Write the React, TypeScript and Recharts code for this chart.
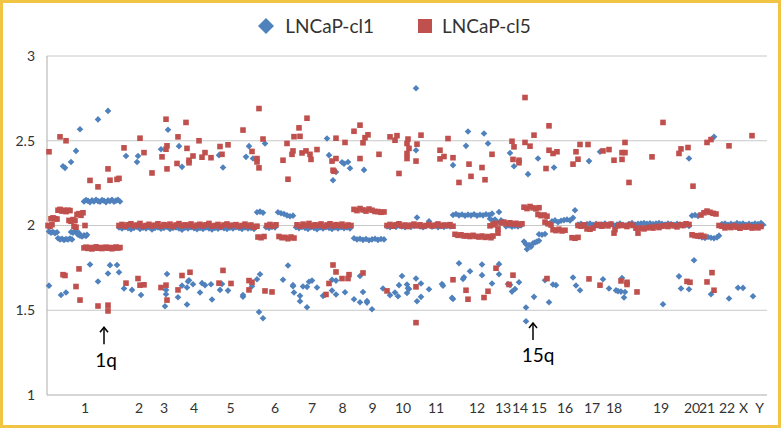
import React from 'react';
import { ScatterChart, Scatter, XAxis, YAxis, CartesianGrid, Legend, ReferenceLine, ReferenceDot } from 'recharts';

type Pt = [number, number];

// chromosome labels along the probe index axis
const chromPos = [38, 92, 117, 147, 183.5, 228, 265, 295.6, 325.5, 356, 389, 430, 456, 473, 492, 518, 545, 567, 614, 645, 660, 680, 696.5, 712.5];
const chromLabels = ['1', '2', '3', '4', '5', '6', '7', '8', '9', '10', '11', '12', '13', '14', '15', '16', '17', '18', '19', '20', '21', '22', 'X', 'Y'];
const yTicks = [1, 1.5, 2, 2.5, 3];

// LNCaP-cl1 copy number, main band
const cl1Band: Pt[] = [
  [2, 1.965], [4, 1.958], [6, 1.962], [8, 1.955], [10, 1.96],
  [11, 1.925], [13, 1.918], [15, 1.922], [17, 1.915], [19, 1.92], [21, 1.917], [23, 1.923], [25, 1.918],
  [24, 1.962], [26, 1.958], [28, 1.965], [30, 1.96], [32, 1.955],
  [31, 1.945], [33, 1.94], [35, 1.935], [37, 1.942], [39, 1.938], [40, 1.945],
  [37, 2.142], [39, 2.15], [41, 2.145], [43, 2.138], [45, 2.148], [47, 2.142], [49, 2.152], [51, 2.144], [53, 2.14], [55, 2.15],
  [57, 2.146], [59, 2.138], [61, 2.148], [63, 2.143], [65, 2.152], [67, 2.14], [69, 2.147], [71, 2.151], [73, 2.142],
  [72, 1.988], [75, 1.982], [78, 1.99], [81, 1.984], [84, 1.978], [87, 1.986], [90, 1.992], [93, 1.98], [96, 1.987], [99, 1.983],
  [102, 1.99], [105, 1.977], [108, 1.985], [111, 1.989], [114, 1.981], [117, 1.986], [120, 1.992], [123, 1.979], [126, 1.985],
  [129, 1.988], [132, 1.982], [135, 1.975], [138, 1.987], [141, 1.983], [144, 1.99], [147, 1.984], [150, 1.978], [153, 1.986],
  [156, 1.98], [159, 1.988], [162, 1.983], [165, 1.977], [168, 1.986], [171, 1.981], [174, 1.989], [177, 1.984], [180, 1.979],
  [183, 1.987], [186, 1.982], [189, 1.99], [192, 1.985], [195, 1.98], [198, 1.988], [201, 1.983], [204, 1.986], [207, 1.98],
  [210, 2.078], [213, 2.082], [216, 2.075], [219, 1.99], [222, 1.985], [225, 1.992], [228, 1.988],
  [231, 2.078], [234, 2.072], [237, 2.068], [240, 2.06], [243, 2.055], [246, 2.058],
  [249, 1.99], [252, 1.984], [255, 1.992], [258, 1.986], [261, 1.98], [264, 1.99], [267, 1.985], [270, 1.978], [273, 1.988],
  [276, 1.983], [279, 1.99], [282, 1.986], [285, 1.98], [288, 1.988], [291, 1.983], [294, 1.99], [297, 1.984], [300, 1.988], [303, 1.982],
  [307, 1.925], [310, 1.918], [313, 1.922], [316, 1.915], [319, 1.92], [322, 1.913], [325, 1.918], [328, 1.922], [331, 1.915], [334, 1.92], [337, 1.918],
  [340, 1.995], [343, 1.99], [346, 1.998], [349, 1.992], [352, 2.0], [355, 1.994], [358, 1.99], [361, 1.997], [364, 1.992], [367, 1.998],
  [370, 2.047], [373, 1.994], [376, 1.99], [379, 1.996], [382, 2.025], [385, 1.993], [388, 1.998], [391, 1.99], [394, 1.996], [397, 1.992], [400, 1.998], [403, 1.994],
  [406, 2.062], [409, 2.068], [412, 2.06], [415, 2.065], [418, 2.058], [421, 2.064], [424, 2.06], [427, 2.066], [430, 2.058],
  [433, 2.063], [436, 2.06], [439, 2.066], [442, 2.062], [445, 2.07],
  [443, 2.04], [446, 2.028], [448, 2.035], [450, 2.02], [452, 2.08], [454, 2.03], [456, 2.022],
  [459, 1.995], [462, 2.0], [465, 1.993], [468, 1.998], [471, 1.994], [474, 2.0],
  [477, 1.905], [479, 1.89], [480, 1.86], [482, 1.885], [484, 1.875], [486, 1.895], [488, 1.9], [490, 1.905], [492, 1.91],
  [492, 1.948], [495, 1.945], [498, 1.95],
  [505, 2.025], [508, 2.03], [511, 2.02], [514, 2.028], [517, 2.032], [520, 2.035], [523, 2.03], [526, 2.045], [528, 2.09],
  [531, 2.005], [534, 2.01], [537, 2.0], [540, 2.008], [543, 2.012], [546, 2.004], [549, 2.01], [552, 2.0], [555, 2.006], [558, 2.012],
  [561, 2.004], [564, 2.008], [567, 2.0], [570, 2.006], [573, 2.012], [576, 2.004], [579, 2.0], [582, 2.008], [585, 2.014], [588, 2.005],
  [591, 2.01], [594, 2.012], [597, 2.015], [600, 2.01], [603, 2.013], [606, 2.008], [609, 2.012], [612, 2.015], [615, 2.01], [618, 2.006],
  [621, 2.012], [624, 2.008], [627, 2.004], [630, 2.01], [633, 2.005], [636, 2.0], [639, 2.004], [642, 1.998],
  [645, 2.058], [648, 2.062], [651, 2.056],
  [652, 1.935], [655, 1.93], [658, 1.926], [661, 1.932], [664, 1.928], [667, 1.925], [670, 1.93], [672, 1.94],
  [675, 2.008], [678, 2.012], [681, 2.004], [684, 2.01], [687, 2.006], [690, 2.014], [693, 2.008], [696, 2.012], [699, 2.004],
  [702, 2.01], [705, 2.006], [708, 2.012], [711, 2.008], [714, 2.014], [716, 2.004],
];

const cl1High: Pt[] = [
  [61, 2.676], [51, 2.626], [33, 2.568], [29, 2.44], [16, 2.35], [18, 2.34], [24, 2.375], [79, 2.41], [91, 2.41], [90, 2.375], [114, 2.45],
  [121, 2.565], [132, 2.468], [135, 2.346], [172, 2.415], [176, 2.342], [202, 2.468], [199, 2.405], [206, 2.395], [218, 2.484],
  [280, 2.513], [282, 2.415], [295, 2.373], [297, 2.365], [301, 2.375], [303, 2.338], [317, 2.328], [289, 2.316], [286, 2.267],
  [421, 2.555], [437, 2.543], [419, 2.47], [441, 2.484], [369, 2.444], [406, 2.356], [463, 2.428], [467, 2.35], [369, 2.81],
  [491, 2.395], [507, 2.342], [481, 2.303], [542, 2.38], [553, 2.435], [667, 2.523], [642, 2.395],
];

const cl1Low: Pt[] = [
  [43, 1.77], [63, 1.766], [70, 1.767], [72, 1.724], [61, 1.717], [51, 1.67], [2, 1.645], [14, 1.59], [19, 1.605], [77, 1.628], [85, 1.62], [94, 1.59],
  [120, 1.714], [119, 1.62], [119, 1.594], [118, 1.524], [131, 1.577], [140, 1.534], [135, 1.645], [140, 1.634], [142, 1.677], [141, 1.67],
  [146, 1.653], [153, 1.605], [155, 1.66], [158, 1.648], [164, 1.653], [165, 1.563], [175, 1.655], [173, 1.62], [181, 1.616], [196, 1.58],
  [196, 1.59], [205, 1.642], [210, 1.683], [213, 1.712], [212, 1.49], [216, 1.453], [236, 1.68],
  [241, 1.764], [246, 1.648], [246, 1.642], [247, 1.605], [253, 1.585], [253, 1.553], [256, 1.64], [260, 1.638], [262, 1.668], [265, 1.675],
  [260, 1.518], [270, 1.634], [276, 1.585], [278, 1.59], [285, 1.68], [289, 1.675], [285, 1.616], [289, 1.593], [298, 1.606], [307, 1.565],
  [313, 1.702], [316, 1.608], [313, 1.547], [320, 1.555], [320, 1.545], [325, 1.506], [336, 1.628], [343, 1.589], [348, 1.605], [351, 1.583],
  [352, 1.648], [355, 1.702],
  [412, 1.777], [435, 1.77], [452, 1.772], [423, 1.73], [417, 1.695], [416, 1.685], [435, 1.707], [445, 1.658], [452, 1.712], [461, 1.655],
  [463, 1.65], [468, 1.625], [465, 1.61], [472, 1.665], [395, 1.655], [396, 1.645], [405, 1.573], [406, 1.567], [382, 1.624], [374, 1.658],
  [361, 1.63], [362, 1.625], [360, 1.652], [369, 1.687], [370, 1.553], [374, 1.579], [360, 1.602],
  [498, 1.677], [506, 1.652], [509, 1.648], [526, 1.693], [529, 1.646], [533, 1.618], [556, 1.683], [562, 1.628], [569, 1.617], [571, 1.613],
  [574, 1.61], [575, 1.69], [578, 1.608], [577, 1.575], [487, 1.579], [502, 1.547], [479, 1.516], [479, 1.435],
  [647, 1.795], [632, 1.7], [634, 1.628], [642, 1.624], [664, 1.594], [691, 1.633], [696, 1.632], [682, 1.569], [706, 1.583], [616, 1.535],
];

// LNCaP-cl5 copy number, main band
const cl5Band: Pt[] = [
  [1, 2.0], [3, 1.995], [5, 2.005], [4, 2.04], [6, 2.045], [8, 2.04], [10, 2.038], [11, 2.09], [13, 2.095], [15, 2.085], [17, 2.09],
  [19, 2.082], [21, 2.09], [23, 2.088], [22, 2.03], [24, 2.025], [26, 2.035], [28, 2.03], [27, 1.995], [29, 1.99], [30, 2.065],
  [32, 2.07], [34, 2.06], [36, 2.075], [38, 2.0],
  [37, 1.868], [39, 1.872], [41, 1.865], [43, 1.87], [45, 1.862], [47, 1.868], [49, 1.874], [51, 1.866], [53, 1.87], [55, 1.864],
  [57, 1.869], [59, 1.872], [61, 1.866], [63, 1.87], [65, 1.863], [67, 1.868], [69, 1.873], [71, 1.867], [73, 1.87],
  [72, 2.0], [75, 2.006], [78, 1.996], [81, 2.004], [84, 2.01], [87, 1.998], [90, 2.003], [93, 2.012], [96, 1.995], [99, 2.0],
  [102, 2.007], [105, 1.997], [108, 2.002], [111, 2.01], [114, 1.996], [117, 2.005], [120, 2.0], [123, 2.008], [126, 1.994],
  [129, 2.003], [132, 2.011], [135, 1.998], [138, 2.004], [141, 2.0], [144, 2.009], [147, 1.995], [150, 2.002], [153, 2.007],
  [156, 1.997], [159, 2.004], [162, 2.012], [165, 1.996], [168, 2.0], [171, 2.006], [174, 1.994], [177, 2.003], [180, 2.009],
  [183, 1.998], [186, 2.002], [189, 2.005], [192, 1.995], [195, 2.0], [198, 2.008], [201, 1.997], [204, 2.003], [207, 1.99], [210, 1.996],
  [211, 1.932], [214, 1.928], [217, 1.935], [220, 2.0], [223, 2.006], [226, 1.996], [229, 2.004],
  [232, 1.935], [235, 1.928], [238, 1.93], [241, 1.922], [244, 1.932], [247, 1.926],
  [250, 2.004], [253, 1.996], [256, 2.008], [259, 2.0], [262, 2.012], [265, 1.997], [268, 2.004], [271, 2.0], [274, 2.009], [277, 1.995],
  [280, 2.003], [283, 2.01], [286, 1.998], [289, 2.005], [292, 2.0], [295, 2.008], [298, 1.996], [301, 2.003], [304, 2.0],
  [307, 2.095], [310, 2.088], [313, 2.1], [316, 2.092], [319, 2.085], [322, 2.097], [325, 2.09], [328, 2.083], [331, 2.082], [334, 2.078], [337, 2.08],
  [340, 2.0], [343, 2.006], [346, 1.996], [349, 2.004], [352, 2.01], [355, 1.997], [358, 2.003], [361, 1.994], [364, 2.002], [367, 2.008],
  [370, 1.998], [373, 2.004], [376, 1.995], [379, 2.0], [382, 2.006], [385, 1.997], [388, 2.002], [391, 2.009], [394, 1.998], [397, 2.003],
  [400, 2.0], [403, 2.005], [406, 1.996],
  [408, 1.948], [411, 1.942], [414, 1.945], [417, 1.938], [420, 1.94], [423, 1.935], [426, 1.942], [429, 1.936], [432, 1.932],
  [435, 1.938], [438, 1.93], [441, 1.935], [444, 1.928], [446, 1.938],
  [443, 1.998], [446, 2.004], [448, 2.012], [451, 1.98], [451, 1.955], [454, 2.015], [457, 2.02], [460, 2.01], [463, 2.016],
  [466, 2.008], [469, 2.013], [472, 2.005], [475, 2.01],
  [477, 2.108], [480, 2.1], [483, 2.112], [486, 2.104], [489, 2.098], [492, 2.105],
  [491, 2.065], [494, 2.058], [497, 2.062], [500, 2.055],
  [498, 2.02], [501, 2.01], [504, 2.003], [506, 1.975], [509, 1.97], [512, 1.978], [515, 1.968], [518, 1.972],
  [525, 1.928], [528, 1.925], [531, 1.93],
  [531, 2.0], [534, 1.996], [537, 2.004], [540, 1.98], [543, 1.978], [546, 1.985], [549, 2.0], [552, 2.006], [555, 1.996], [558, 2.004],
  [561, 1.998], [564, 2.008], [567, 1.955], [568, 1.975], [571, 1.998], [574, 2.003], [577, 2.0], [580, 1.994], [583, 2.006], [586, 2.0],
  [589, 1.984], [591, 1.955], [594, 1.985], [597, 1.98], [600, 1.986], [603, 1.99], [606, 1.985], [609, 1.995], [612, 1.988], [615, 1.996],
  [618, 2.0], [621, 1.994], [624, 2.004], [627, 1.998], [630, 1.992], [633, 2.005], [636, 2.0], [639, 2.01], [642, 2.006],
  [645, 1.945], [648, 1.94], [651, 1.938], [654, 1.942], [657, 1.936],
  [654, 2.062], [657, 2.075], [660, 2.085], [663, 2.078], [666, 2.072], [669, 2.068],
  [672, 2.0], [675, 1.996], [678, 1.986], [681, 1.994], [684, 1.988], [687, 1.998], [690, 1.99], [693, 1.984], [696, 1.994], [699, 1.99],
  [702, 1.996], [705, 1.985], [708, 1.992], [711, 1.986], [714, 1.994],
];

const cl5High: Pt[] = [
  [13, 2.523], [19, 2.5], [2, 2.435], [61, 2.334], [43, 2.266], [51, 2.228], [63, 2.267], [70, 2.272], [72, 2.278], [77, 2.458], [93, 2.515],
  [97, 2.43], [105, 2.31], [115, 2.405],
  [119, 2.627], [139, 2.608], [212, 2.69], [196, 2.563], [131, 2.523], [120, 2.47], [119, 2.45], [120, 2.334], [130, 2.366], [140, 2.455],
  [146, 2.41], [142, 2.385], [142, 2.37], [152, 2.5], [158, 2.43], [155, 2.403], [164, 2.4], [173, 2.466], [181, 2.476], [175, 2.42],
  [205, 2.437], [210, 2.395], [210, 2.375], [212, 2.34], [216, 2.51], [236, 2.385],
  [260, 2.633], [252, 2.576], [247, 2.524], [253, 2.526], [240, 2.484], [246, 2.44], [245, 2.42], [255, 2.428], [259, 2.44], [263, 2.42],
  [264, 2.39], [270, 2.448], [241, 2.273], [289, 2.515], [298, 2.49], [307, 2.556], [313, 2.592], [316, 2.488], [321, 2.535], [318, 2.518],
  [313, 2.395], [332, 2.42], [343, 2.523], [348, 2.503], [350, 2.53], [352, 2.307], [289, 2.395], [285, 2.38], [286, 2.326], [287, 2.32],
  [374, 2.533], [361, 2.51], [360, 2.484], [362, 2.455], [360, 2.425], [360, 2.395], [369, 2.38], [370, 2.48], [401, 2.513], [393, 2.444],
  [397, 2.407], [393, 2.393], [406, 2.4], [422, 2.362], [424, 2.29], [412, 2.254], [435, 2.342], [438, 2.27], [445, 2.42], [465, 2.497],
  [467, 2.464], [466, 2.39], [472, 2.385], [472, 2.37], [478, 2.49], [478, 2.755],
  [502, 2.588], [487, 2.533], [483, 2.468], [502, 2.444], [506, 2.425], [510, 2.435], [499, 2.336], [526, 2.362], [531, 2.391], [529, 2.435],
  [533, 2.478], [541, 2.478], [556, 2.44], [562, 2.448], [567, 2.385], [575, 2.43], [578, 2.43], [575, 2.39], [578, 2.49], [582, 2.254],
  [616, 2.608], [705, 2.53], [664, 2.507], [660, 2.49], [682, 2.47], [634, 2.452], [632, 2.425], [641, 2.46], [605, 2.405], [646, 2.232],
];

const cl5Low: Pt[] = [
  [16, 1.71], [18, 1.705], [32, 1.744], [29, 1.64], [33, 1.56], [51, 1.525], [61, 1.53], [61, 1.496], [79, 1.66], [91, 1.687], [93, 1.648],
  [97, 1.65], [114, 1.634],
  [135, 1.705], [143, 1.724], [131, 1.62], [120, 1.56], [119, 1.648], [176, 1.735], [172, 1.66], [184, 1.658], [202, 1.675], [205, 1.665],
  [202, 1.62], [218, 1.614], [225, 1.608],
  [286, 1.767], [289, 1.726], [282, 1.658], [279, 1.593], [295, 1.687], [302, 1.71], [301, 1.687], [316, 1.72], [340, 1.614],
  [369, 1.638], [369, 1.427], [406, 1.68], [419, 1.618], [421, 1.565], [441, 1.612], [437, 1.575], [449, 1.748], [466, 1.707], [462, 1.652],
  [500, 1.687], [542, 1.685], [553, 1.648], [574, 1.673], [580, 1.665], [580, 1.652], [590, 1.608],
  [665, 1.722], [640, 1.67], [643, 1.665], [660, 1.667], [667, 1.618],
];

// arrows pointing at the 1q gain and 15q loss
const notes = [
  { label: '1q', x: 57, tail: 1.3, head: 1.4, textX: 59, textY: 1.195 },
  { label: '15q', x: 486, tail: 1.325, head: 1.425, textX: 491, textY: 1.222 },
];

const toRows = (pts: Pt[]) => pts.map(([x, y]) => ({ x, y }));
const cl1 = toRows([...cl1Band, ...cl1High, ...cl1Low]);
const cl5 = toRows([...cl5Band, ...cl5High, ...cl5Low]);

const BLUE = '#4F81BD';
const RED = '#C0504D';
const FONT = 'Lato, sans-serif';

const Diamond = (p: any) => {
  const { cx, cy } = p;
  const r = 3.3;
  return <path d={`M${cx} ${cy - r}L${cx + r} ${cy}L${cx} ${cy + r}L${cx - r} ${cy}Z`} fill={BLUE} />;
};

const Square = (p: any) => <rect x={p.cx - 2.8} y={p.cy - 2.8} width={5.6} height={5.6} fill={RED} />;

const Arrow = (p: any) => {
  const { x1, y1, x2, y2 } = p;
  return (
    <g stroke="#000" strokeWidth={1.5} fill="none">
      <line x1={x1} y1={y1} x2={x2} y2={y2} />
      <path d={`M${x2 - 4} ${y2 + 5}L${x2} ${y2}L${x2 + 4} ${y2 + 5}`} />
    </g>
  );
};

const LegendBox = () => (
  <div style={{ display: 'flex', justifyContent: 'center', alignItems: 'center', fontFamily: FONT, fontSize: 19, color: '#333', paddingLeft: 7 }}>
    <svg width={18} height={18} style={{ marginRight: 10 }}>
      <path d="M9 1L17 9L9 17L1 9Z" fill={BLUE} />
    </svg>
    <span>LNCaP-cl1</span>
    <svg width={14} height={14} style={{ marginLeft: 44, marginRight: 10 }}>
      <rect x={0} y={0} width={14} height={14} fill={RED} />
    </svg>
    <span>LNCaP-cl5</span>
  </div>
);

export default function App() {
  return (
    <div style={{ position: 'absolute', left: 0, top: 0, width: 781, height: 428, background: '#fff', fontFamily: FONT }}>
      <ScatterChart width={781} height={428} margin={{ top: 56, right: 14, bottom: 3, left: 0 }}>
        <CartesianGrid horizontal vertical={false} stroke="#C8C8C8" />
        <XAxis
          type="number"
          dataKey="x"
          domain={[0, 720]}
          ticks={chromPos}
          interval={0}
          tickFormatter={(v: number) => chromLabels[chromPos.indexOf(v)]}
          tickLine={false}
          axisLine={{ stroke: '#C8C8C8' }}
          height={30}
          tick={{ fontSize: 14, fill: '#333', fontFamily: FONT }}
        />
        <YAxis
          type="number"
          dataKey="y"
          domain={[1, 3]}
          ticks={yTicks}
          width={47}
          tickLine={false}
          tickSize={6}
          tickMargin={6}
          axisLine={{ stroke: '#ADADAD' }}
          tick={{ fontSize: 14, fill: '#333', fontFamily: FONT }}
        />
        <Legend verticalAlign="middle" align="center" layout="horizontal" wrapperStyle={{ top: 14, left: 0, width: 781 }} content={() => <LegendBox />} />
        <Scatter name="LNCaP-cl1" data={cl1} shape={Diamond} isAnimationActive={false} />
        <Scatter name="LNCaP-cl5" data={cl5} shape={Square} isAnimationActive={false} />
        {notes.map((n) => (
          <ReferenceLine key={n.label + 'a'} segment={[{ x: n.x, y: n.tail }, { x: n.x, y: n.head }]} shape={Arrow} />
        ))}
        {notes.map((n) => (
          <ReferenceDot
            key={n.label + 't'}
            x={n.textX}
            y={n.textY}
            shape={(p: any) => (
              <text x={p.cx} y={p.cy} textAnchor="middle" dominantBaseline="middle" fontSize={19} fontFamily={FONT} fill="#000">
                {n.label}
              </text>
            )}
          />
        ))}
      </ScatterChart>
      <div style={{ position: 'absolute', inset: 0, border: '3px solid #F2C443', boxSizing: 'border-box', pointerEvents: 'none' }} />
    </div>
  );
}
